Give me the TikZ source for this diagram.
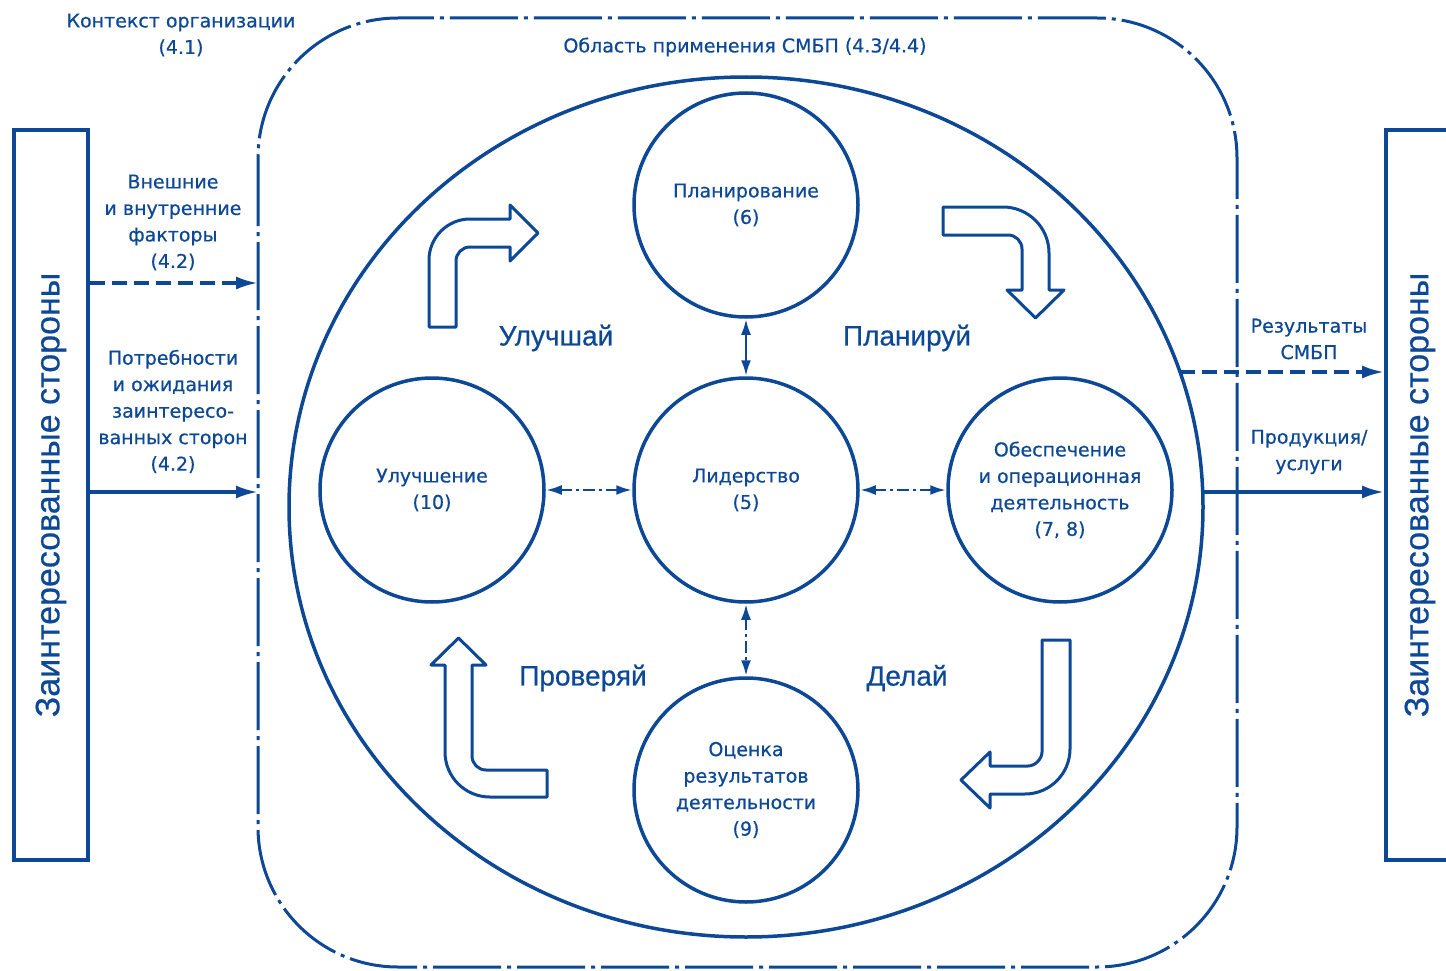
\documentclass[tikz,border=0pt]{standalone}
\usepackage{fontspec}
\setmainfont{DejaVu Sans}
\newfontfamily\lblfont[FakeBold=0.6]{DejaVu Sans}
\newfontfamily\lsans[FakeBold=0.5]{Liberation Sans}
\usetikzlibrary{arrows.meta,shapes.geometric}
\definecolor{db}{RGB}{13,72,150}
\begin{document}
\begin{tikzpicture}[x=1pt,y=-1pt,
  every node/.style={text=db, align=center, inner sep=0pt},
  lbl/.style={font=\lblfont\fontsize{19}{26.5}\selectfont},
  biglbl/.style={font=\lsans\fontsize{28}{32}\selectfont},
  sidetxt/.style={font=\lsans\fontsize{34}{36}\selectfont, rotate=90},
  circ/.style={circle, draw=db, line width=3.5pt, minimum size=224pt, lbl},
  box/.style={draw=db, line width=3.8pt, minimum height=730pt},
  border/.style={draw=db, line width=3pt, dash pattern=on 68pt off 6pt on 4pt off 6pt, rounded corners=140pt},
  link/.style={draw=db, line width=2.8pt, {Latex[length=16pt,width=10pt]}-{Latex[length=16pt,width=10pt]}},
  linkdd/.style={link, dash pattern=on 12pt off 4pt on 3pt off 4pt},
  extarr/.style={draw=db, line width=3.4pt, -{Latex[length=22pt,width=13pt]}},
  extdash/.style={extarr, dash pattern=on 15pt off 7pt},
  bent/.style={draw=db, fill=white, line width=3pt, line join=round}
]
\useasboundingbox (0,0) rectangle (1446,971);

% frame of the scope
\draw[border] (258,18) rectangle (1237,967);

% side boxes
\node[box, minimum width=74pt] (lbox) at (51,495) {};
\node[sidetxt] (ltxt) at (lbox) {Заинтересованные стороны};
\node[box, minimum width=90pt] (rbox) at (1431,495) {};
\node[sidetxt] (rtxt) at (1420,495) {Заинтересованные стороны};

% big system ellipse
\node[ellipse, draw=db, line width=3.5pt, minimum width=914pt, minimum height=860pt] (sys) at (746,507) {};

% circles
\node[circ] (plan) at (746,205) {Планирование\\(6)};
\node[circ] (lead) at (746,490) {Лидерство\\(5)};
\node[circ] (impr) at (432,490) {Улучшение\\(10)};
\node[circ] (ops) at (1060,490) {Обеспечение\\и операционная\\деятельность\\(7, 8)};
\node[circ] (eval) at (746,790) {Оценка\\результатов\\деятельности\\(9)};

% links between circles
\draw[link] (plan) -- (lead);
\draw[linkdd] (lead) -- (eval);
\draw[linkdd] (impr) -- (lead);
\draw[linkdd] (lead) -- (ops);

% texts
\node[lbl] (ctx) at (181,35) {Контекст организации\\(4.1)};
\node[lbl] (scopelbl) at (745,47) {Область применения СМБП (4.3/4.4)};
\node[lbl] (ext) at (173,222.5) {Внешние\\и внутренние\\факторы\\(4.2)};
\node[lbl] (needs) at (173,411.5) {Потребности\\и ожидания\\заинтересо-\\ванных сторон\\(4.2)};
\node[lbl] (res) at (1309,339) {Результаты\\СМБП};
\node[lbl] (prod) at (1309,452) {Продукция/\\услуги};

\node[biglbl] (t1) at (556,338) {Улучшай};
\node[biglbl] (t2) at (907,338) {Планируй};
\node[biglbl] (t3) at (583,678) {Проверяй};
\node[biglbl] (t4) at (907,678) {Делай};

% external arrows
\coordinate (b1) at (258,283);
\coordinate (b2) at (258,492);
\coordinate (r1) at (1180,372);
\coordinate (r2) at (1203,492);
\draw[extdash] (lbox.east |- b1) -- (b1);
\draw[extarr] (lbox.east |- b2) -- (b2);
\draw[extdash] (r1) -- (rbox.west |- r1);
\draw[extarr] (r2) -- (rbox.west |- r2);

% bent arrows
\draw[bent] (429,327) -- (429,260) .. controls (429,237.4) and (447.4,219) .. (470,219)
  -- (510,219) -- (510,205) -- (538,233) -- (510,261) -- (510,247) -- (470,247)
  .. controls (462.3,247) and (456,253.3) .. (456,261) -- (456,327) -- cycle;
\draw[bent] (943,207) -- (1003,207) .. controls (1028.4,207) and (1049,227.6) .. (1049,253)
  -- (1049,290) -- (1064,290) -- (1035.5,318) -- (1007,290) -- (1022,290) -- (1022,249)
  .. controls (1022,241.3) and (1015.7,235) .. (1008,235) -- (943,235) -- cycle;
\draw[bent] (1042,640) -- (1070,640) -- (1070,749) .. controls (1070,773.8) and (1049.8,794) .. (1025,794)
  -- (990,794) -- (990,808) -- (961,780) -- (990,752) -- (990,766) -- (1028,766)
  .. controls (1035.7,766) and (1042,758.3) .. (1042,752) -- cycle;
\draw[bent] (445,665) -- (431,665) -- (458.5,638) -- (486,665) -- (472,665) -- (472,756)
  .. controls (472,763.7) and (478.3,770) .. (486,770) -- (547,770) -- (547,797) -- (490,797)
  .. controls (465.1,797) and (445,776.9) .. (445,752) -- cycle;
\end{tikzpicture}
\end{document}
